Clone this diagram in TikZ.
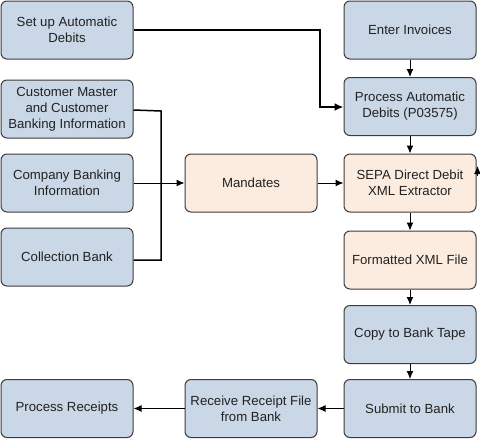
\documentclass[tikz,border=0pt]{standalone}
\usepackage{fontspec}
\setmainfont{Liberation Sans}
\usetikzlibrary{arrows.meta}
\definecolor{bluefill}{RGB}{201,215,230}
\definecolor{orangefill}{RGB}{252,236,224}
\definecolor{boxborder}{RGB}{60,60,60}
\definecolor{txt}{RGB}{34,34,34}
\tikzset{
  box/.style={draw=boxborder, line width=1pt, rounded corners=6pt, minimum width=132pt, minimum height=58pt,
    align=center, inner sep=2pt, text=txt, font=\fontsize{13.2}{16}\selectfont},
  bluebox/.style={box, fill=bluefill},
  orangebox/.style={box, fill=orangefill},
  conn/.style={draw=black, line width=1pt},
  arr/.style={conn, -{Latex[length=8pt,width=7pt]}},
  thickarr/.style={draw=black, line width=1.8pt, -{Latex[length=9pt,width=8pt]}},
}
\begin{document}
\begin{tikzpicture}[x=1pt,y=-1pt]
\useasboundingbox (0,0) rectangle (480,439);
% left column
\node[bluebox] (setup) at (67,30) {Set up Automatic\\Debits};
\node[bluebox] (cust) at (67,109) {Customer Master\\and Customer\\Banking Information};
\node[bluebox] (comp) at (67,183) {Company Banking\\Information};
\node[bluebox] (coll) at (67,257) {Collection Bank};
\node[bluebox] (receipts) at (67,408.5) {Process Receipts};
% middle column
\node[orangebox] (mand) at (251,183) {Mandates};
\node[bluebox] (receive) at (251,408.5) {Receive Receipt File\\from Bank};
% right column
\node[bluebox] (enter) at (410,30) {Enter Invoices};
\node[bluebox] (pad) at (410,106.5) {Process Automatic\\Debits (P03575)};
\node[orangebox] (sepa) at (410,183) {SEPA Direct Debit\\XML Extractor};
\node[orangebox] (xml) at (410,260) {Formatted XML File};
\node[bluebox] (copy) at (410,334.5) {Copy to Bank Tape};
\node[bluebox] (submit) at (410,408.5) {Submit to Bank};
% connectors
\draw[thickarr] (setup.east) -- (320,30) -- (320,107) -- (pad.west |- 0,107);
\draw[arr] (enter) -- (pad);
\draw[arr] (pad) -- (sepa);
\draw[conn, line width=1.5pt] (cust.east |- 0,110) -- (161,111) -- (161,260) -- (coll.east |- 0,260);
\draw[arr] (comp) -- (mand);
\draw[arr] (mand) -- (sepa);
\draw[arr] (sepa) -- (xml);
\draw[arr] (xml) -- (copy);
\draw[arr] (copy) -- (submit);
\draw[arr] (submit) -- (receive);
\draw[arr] (receive) -- (receipts);
\coordinate (sepastub) at (477.5,176);
\draw[arr] (sepastub) -- ++(0,-10);
\end{tikzpicture}
\end{document}
